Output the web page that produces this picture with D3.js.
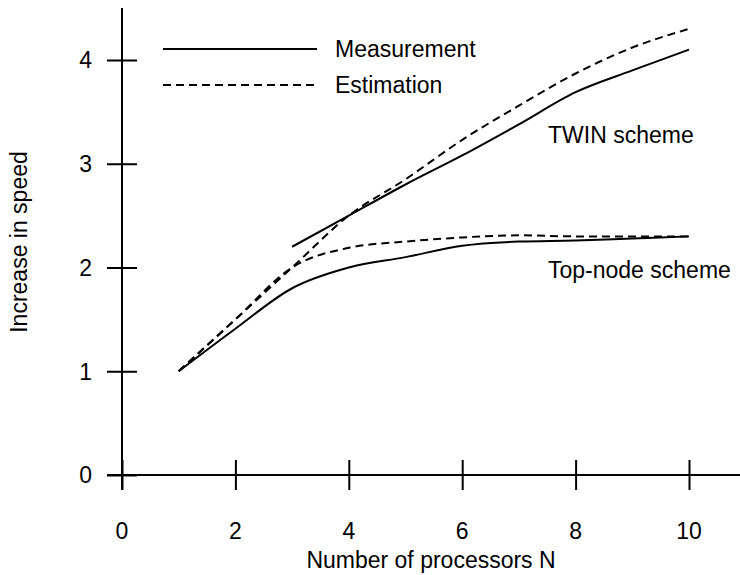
<!DOCTYPE html>
<html>
<head>
<meta charset="utf-8">
<script src="https://cdn.jsdelivr.net/npm/d3@7/dist/d3.min.js"></script>
<style>
  html, body { margin: 0; padding: 0; background: #fff; }
  svg text { font-family: "Liberation Sans", Arial, sans-serif; fill: #000; }
</style>
</head>
<body>
<svg id="chart" width="740" height="575"></svg>
<script>
// Processor counts and speed-up values
const processors = [1, 2, 3, 4, 5, 6, 7, 8, 9, 10];
const twinProcessors = [3, 4, 5, 6, 7, 8, 9, 10];
const twinMeasured = [2.2, 2.5, 2.8, 3.08, 3.38, 3.69, 3.9, 4.1];
const twinEstProcessors = [1, 2, 3, 4, 5, 6, 7, 8, 9, 10];
const twinEstimated = [1.0, 1.5, 2.0, 2.5, 2.85, 3.23, 3.56, 3.87, 4.12, 4.3];
const topMeasured = [1.0, 1.41, 1.8, 2.0, 2.1, 2.21, 2.25, 2.26, 2.28, 2.3];
const topEstimated = [1.0, 1.5, 2.0, 2.19, 2.25, 2.29, 2.31, 2.3, 2.3, 2.3];
const xTicks = [0, 2, 4, 6, 8, 10];
const yTicks = [0, 1, 2, 3, 4];

const svg = d3.select("#chart");
const FONT = 23;

const x = d3.scaleLinear().domain([0, 10]).range([122, 689]);
const y = d3.scaleLinear().domain([0, 4]).range([475, 60]);

// Axes: tick marks cross the axis line
const xAxis = svg.append("g").attr("transform", `translate(0,${y(0)})`)
  .call(d3.axisBottom(x).tickValues(xTicks).tickSize(0).tickFormat(""));
xAxis.select(".domain").remove();
svg.append("line").attr("x1", 107).attr("x2", 740).attr("y1", y(0)).attr("y2", y(0))
  .attr("stroke", "#000").attr("stroke-width", 2);
xAxis.selectAll(".tick line").attr("y1", -15).attr("y2", 15)
  .attr("stroke", "#000").attr("stroke-width", 2);

const yAxis = svg.append("g").attr("transform", `translate(${x(0)},0)`)
  .call(d3.axisLeft(y).tickValues(yTicks).tickSize(0).tickFormat(""));
yAxis.select(".domain").remove();
svg.append("line").attr("x1", x(0)).attr("x2", x(0)).attr("y1", 8).attr("y2", 490)
  .attr("stroke", "#000").attr("stroke-width", 2);
yAxis.selectAll(".tick line").attr("x1", -15).attr("x2", 15)
  .attr("stroke", "#000").attr("stroke-width", 2);

// Tick labels
svg.append("g").selectAll("text").data(xTicks).join("text")
  .attr("x", d => x(d)).attr("y", 539)
  .attr("text-anchor", "middle").style("font-size", FONT + "px")
  .text(d => d);
svg.append("g").selectAll("text").data(yTicks).join("text")
  .attr("x", 92).attr("y", d => y(d)).attr("dy", "0.36em")
  .attr("text-anchor", "end").style("font-size", FONT + "px")
  .text(d => d);

// Axis titles
svg.append("text").attr("x", 431).attr("y", 568)
  .attr("text-anchor", "middle").style("font-size", FONT + "px")
  .text("Number of processors N");
svg.append("text").attr("transform", "translate(27,242) rotate(-90)")
  .attr("text-anchor", "middle").style("font-size", FONT + "px")
  .text("Increase in speed");

// Curves
const line = d3.line().x(d => x(d[0])).y(d => y(d[1])).curve(d3.curveMonotoneX);
const DASH = "8,5";
const series = [
  { xs: twinProcessors, ys: twinMeasured, dash: null },
  { xs: twinEstProcessors, ys: twinEstimated, dash: DASH },
  { xs: processors, ys: topMeasured, dash: null },
  { xs: processors, ys: topEstimated, dash: DASH }
];
series.forEach(s => {
  svg.append("path")
    .datum(s.xs.map((v, i) => [v, s.ys[i]]))
    .attr("d", line)
    .attr("fill", "none").attr("stroke", "#000").attr("stroke-width", 2)
    .attr("stroke-dasharray", s.dash);
});

// Scheme labels
svg.append("text").attr("x", 548).attr("y", 143).style("font-size", FONT + "px").text("TWIN scheme");
svg.append("text").attr("x", 548).attr("y", 278).style("font-size", FONT + "px").text("Top-node scheme");

// Legend
const legend = [
  { label: "Measurement", dash: null, yy: 49 },
  { label: "Estimation", dash: DASH, yy: 85 }
];
legend.forEach(l => {
  svg.append("line").attr("x1", 163).attr("x2", 317).attr("y1", l.yy).attr("y2", l.yy)
    .attr("stroke", "#000").attr("stroke-width", 2).attr("stroke-dasharray", l.dash);
  svg.append("text").attr("x", 335).attr("y", l.yy).attr("dy", "0.36em")
    .style("font-size", FONT + "px").text(l.label);
});
</script>
</body>
</html>
